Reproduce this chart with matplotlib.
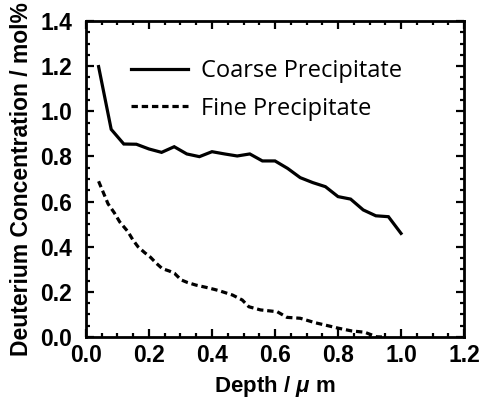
import matplotlib
matplotlib.use("Agg")
import matplotlib.pyplot as plt
from matplotlib.ticker import MultipleLocator, FormatStrFormatter

# Data
coarse_depth = [0.04, 0.08, 0.12, 0.16, 0.20, 0.24, 0.28, 0.32, 0.36, 0.40,
                0.44, 0.48, 0.52, 0.56, 0.60, 0.64, 0.68, 0.72, 0.76, 0.80,
                0.84, 0.88, 0.92, 0.96, 1.00]
coarse_conc = [1.198, 0.920, 0.855, 0.854, 0.833, 0.818, 0.843, 0.811, 0.799, 0.821,
               0.811, 0.802, 0.811, 0.780, 0.780, 0.747, 0.706, 0.684, 0.666, 0.622,
               0.611, 0.563, 0.537, 0.533, 0.459]

fine_depth = [0.040, 0.055, 0.070, 0.090, 0.107, 0.133, 0.149, 0.165, 0.186, 0.205,
              0.223, 0.242, 0.265, 0.281, 0.302, 0.323, 0.349, 0.381, 0.407, 0.423,
              0.465, 0.496, 0.517, 0.554, 0.607, 0.638, 0.680, 0.728, 0.759, 0.801,
              0.843, 0.885, 0.922, 0.940]
fine_conc = [0.690, 0.640, 0.590, 0.550, 0.510, 0.467, 0.430, 0.400, 0.374, 0.353,
             0.327, 0.303, 0.292, 0.282, 0.253, 0.241, 0.230, 0.220, 0.211, 0.205,
             0.186, 0.164, 0.134, 0.120, 0.112, 0.087, 0.083, 0.063, 0.053, 0.039,
             0.027, 0.021, 0.001, 0.000]

series_labels = ["Coarse Precipitate", "Fine Precipitate"]
x_label = r"Depth / $\mu$ m"
y_label = "Deuterium Concentration / mol%"

plt.rcParams['font.family'] = ['Liberation Sans', 'DejaVu Sans']
plt.rcParams['mathtext.fontset'] = 'custom'
plt.rcParams['mathtext.it'] = 'Liberation Sans:italic:bold'
plt.rcParams['mathtext.rm'] = 'Liberation Sans:bold'

fig = plt.figure(figsize=(4.82, 4.00), dpi=100)
ax = fig.add_axes([0.1784, 0.1575, 0.7843, 0.79])

ax.plot(coarse_depth, coarse_conc, color='black', lw=2.3, solid_joinstyle='miter',
        label=series_labels[0])
ln, = ax.plot(fine_depth, fine_conc, color='black', lw=2.3, label=series_labels[1])
ln.set_dashes([2.0, 1.2])

ax.set_xlim(0, 1.2)
ax.set_ylim(0, 1.4)
ax.xaxis.set_major_locator(MultipleLocator(0.2))
ax.xaxis.set_minor_locator(MultipleLocator(0.05))
ax.yaxis.set_major_locator(MultipleLocator(0.2))
ax.yaxis.set_minor_locator(MultipleLocator(0.05))
ax.xaxis.set_major_formatter(FormatStrFormatter('%.1f'))
ax.yaxis.set_major_formatter(FormatStrFormatter('%.1f'))

for s in ax.spines.values():
    s.set_linewidth(2.0)
ax.tick_params(which='both', direction='in', top=True, right=True, width=1.6)
ax.tick_params(which='major', length=6)
ax.tick_params(which='minor', length=3.2)
ax.tick_params(axis='x', which='major', pad=5, labelsize=16.5)
ax.tick_params(axis='y', which='major', pad=10, labelsize=16.5)
for lab in ax.get_xticklabels() + ax.get_yticklabels():
    lab.set_fontweight('bold')

ax.set_xlabel(x_label, fontsize=16, fontweight='bold', labelpad=5)
ax.set_ylabel(y_label, fontsize=16.5, fontweight='bold', labelpad=5)

leg = ax.legend(loc='upper left', bbox_to_anchor=(0.118, 0.88), frameon=False,
                borderaxespad=0, borderpad=0, handlelength=2.45, handletextpad=0.55,
                labelspacing=0.58, prop={'family': 'Open Sans', 'size': 17})

fig.savefig('out.png', dpi=100)
